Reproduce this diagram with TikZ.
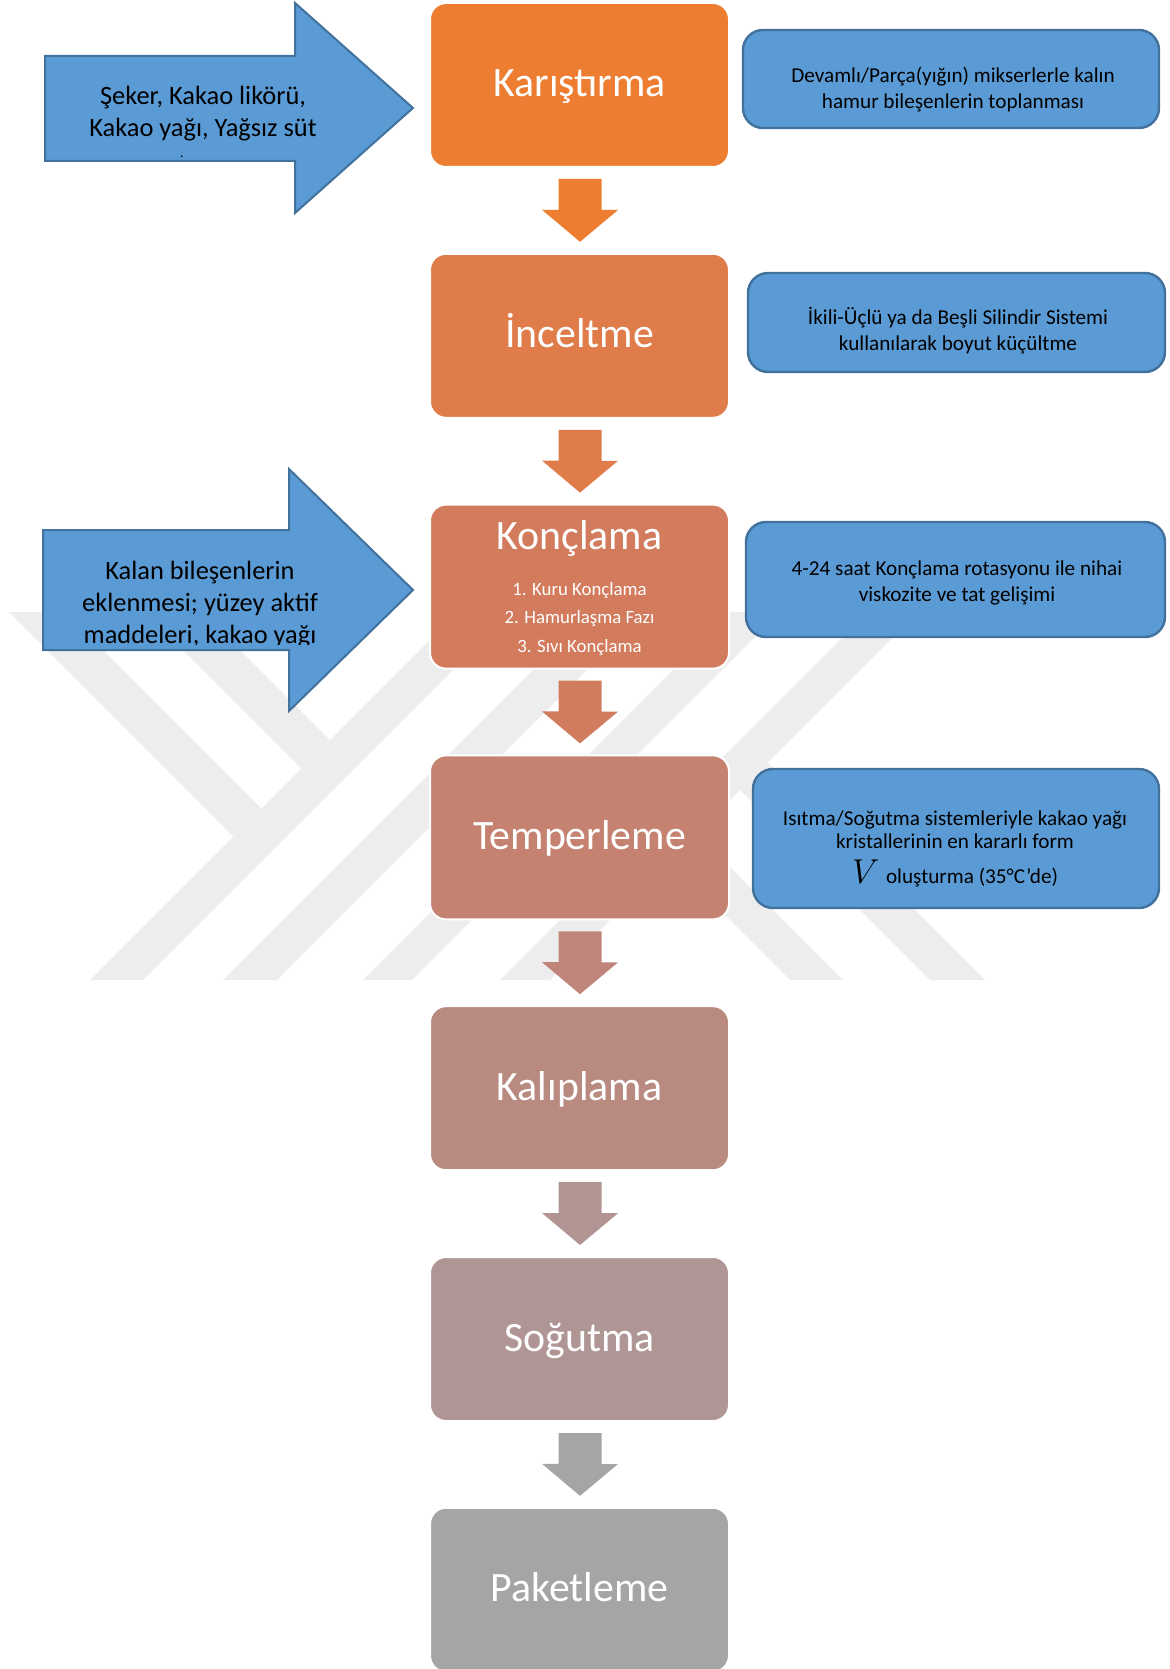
\documentclass[tikz,border=0pt]{standalone}
\usepackage{fontspec}
\setmainfont{Carlito}
\usepackage{xcolor}
\usepackage{tikz}
\usetikzlibrary{positioning,calc}
\definecolor{stepA}{HTML}{ED7D31}
\definecolor{stepB}{HTML}{DF7C4A}
\definecolor{stepC}{HTML}{D37B5D}
\definecolor{stepD}{HTML}{C58271}
\definecolor{stepE}{HTML}{B98A80}
\definecolor{stepF}{HTML}{AF9694}
\definecolor{stepG}{HTML}{A5A5A5}
\definecolor{arrA}{HTML}{ED7D31}
\definecolor{arrB}{HTML}{DF7C4A}
\definecolor{arrC}{HTML}{D27C5F}
\definecolor{arrD}{HTML}{C0857A}
\definecolor{arrE}{HTML}{B29593}
\definecolor{arrF}{HTML}{A5A5A5}
\definecolor{notefill}{HTML}{5B9BD5}
\definecolor{noteline}{HTML}{41719C}
\definecolor{wmgray}{HTML}{EDEDED}

\begin{document}
\begin{tikzpicture}[x=0.5pt,y=-0.5pt,
		stepbox/.style={rounded corners=8pt,draw=white,line width=1pt,outer sep=0pt,inner sep=0pt,
				minimum width=149.5pt,minimum height=82pt,text=white,text height=14pt,text depth=2pt,
				font=\fontsize{20.9}{25}\selectfont},
		subtext/.style={align=center,text=white,inner sep=0pt,font=\fontsize{9.4}{14.25}\selectfont},
		notebox/.style={rounded corners=10pt,draw=noteline,line width=1.2pt,fill=notefill,inner sep=0pt},
		notetext/.style={align=center,inner sep=0pt,font=\fontsize{10.6}{13}\selectfont},
		feedarrow/.style={fill=notefill,draw=noteline,line width=1pt},
		feedtext/.style={align=center,inner sep=0pt,font=\fontsize{13.2}{16}\selectfont},
		wmark/.style={fill=wmgray}
		]
		\useasboundingbox (0,0) rectangle (1170,1669);
		\fill[wmark] (90,980) -- (143,980) -- (511,612) -- (458,612) -- cycle;
		\fill[wmark] (223,980) -- (277,980) -- (645,612) -- (591,612) -- cycle;
		\fill[wmark] (363,980) -- (412,980) -- (780,612) -- (731,612) -- cycle;
		\fill[wmark] (500,980) -- (550,980) -- (918,612) -- (868,612) -- cycle;
		\fill[wmark] (9,612) -- (65,612) -- (261.5,808.5) -- (233.5,836.5) -- cycle;
		\fill[wmark] (145,612) -- (202,612) -- (330,740) -- (301.5,768.5) -- cycle;
		\fill[wmark] (670,860) -- (696.5,833.5) -- (843,980) -- (790,980) -- cycle;
		\fill[wmark] (740,790) -- (767.5,762.5) -- (985,980) -- (930,980) -- cycle;

		\node[stepbox,fill=stepA] (k1) at (579.5,85) {Karıştırma};
		\node[stepbox,fill=stepB,below=43.4pt of k1] (k2) {İnceltme};
		\node[stepbox,fill=stepC,below=43.4pt of k2] (k3) {};
		\node[stepbox,fill=stepD,below=43.4pt of k3] (k4) {Temperleme};
		\node[stepbox,fill=stepE,below=43.4pt of k4] (k5) {Kalıplama};
		\node[stepbox,fill=stepF,below=43.4pt of k5] (k6) {Soğutma};
		\node[stepbox,fill=stepG,below=43.4pt of k6] (k7) {Paketleme};
		\node[text=white,inner sep=0pt,text height=14pt,text depth=2pt,font=\fontsize{20.9}{25}\selectfont] (k3t)
		at ($(k3.north)+(0,33)$) {Konçlama};
		\node[subtext] (k3s) at ($(k3.center)+(0,32)$) {1. Kuru Konçlama\\2. Hamurlaşma Fazı\\3. Sıvı Konçlama};

		\foreach \a/\b/\c in {k1/k2/arrA,k2/k3/arrB,k3/k4/arrC,k4/k5/arrD,k5/k6/arrE,k6/k7/arrF}
		\fill[\c] ($(\a.south)+(-21,12)$) -- ++(43,0) -- ++(0,31) -- ++(16.5,0) -- ($(\b.north)+(0.5,-12)$)
		-- ++(-38,-32) -- ++(16.5,0) -- cycle;

		\node[notebox,minimum width=208pt,minimum height=49pt] (nA) at (951,79) {};
		\node[notetext] (tA) at (953,90) {Devamlı/Parça(yığın) mikserlerle kalın\\hamur bileşenlerin toplanması};
		\node[notebox,minimum width=208.5pt,minimum height=49.5pt] (nB) at (956.5,322.5) {};
		\node[notetext] (tB) at (958,331) {İkili-Üçlü ya da Beşli Silindir Sistemi\\kullanılarak boyut küçültme};
		\node[notebox,minimum width=209.5pt,minimum height=57.5pt] (nC) at (955.5,579.5) {};
		\node[notetext] (tC) at (957,582.5) {4-24 saat Konçlama rotasyonu ile nihai\\viskozite ve tat gelişimi};
		\node[notebox,minimum width=203pt,minimum height=69.5pt] (nD) at (956,838.5) {};
		\node[notetext,font=\fontsize{10.6}{11.5}\selectfont] (tD) at (955,849) {Isıtma/Soğutma sistemleriyle kakao yağı\\kristallerinin en kararlı form\\[5pt]{\fontsize{17}{17}\selectfont$V$}\hspace{1pt} oluşturma (35°C’de)};

		\draw[feedarrow] (45,56) -- (295,56) -- (295,3) -- (413,108) -- (295,213) -- (295,161) -- (45,161) -- cycle;
		\node[feedtext] (f1t) at (203,114) {Şeker, Kakao likörü,\\Kakao yağı, Yağsız süt};
		\node[inner sep=0pt,anchor=base,font=\fontsize{7}{7}\selectfont] (f1d) at (182,158) {.};
		\draw[feedarrow] (43,530) -- (289,530) -- (289,469) -- (413,590) -- (289,711) -- (289,650) -- (43,650) -- cycle;
		\begin{scope}
			\clip (43,469) rectangle (413,644);
			\node[feedtext] (f2t) at (200,604.5) {Kalan bileşenlerin\\eklenmesi; yüzey aktif\\maddeleri, kakao yağı};
		\end{scope}
	\end{tikzpicture}
\end{document}
